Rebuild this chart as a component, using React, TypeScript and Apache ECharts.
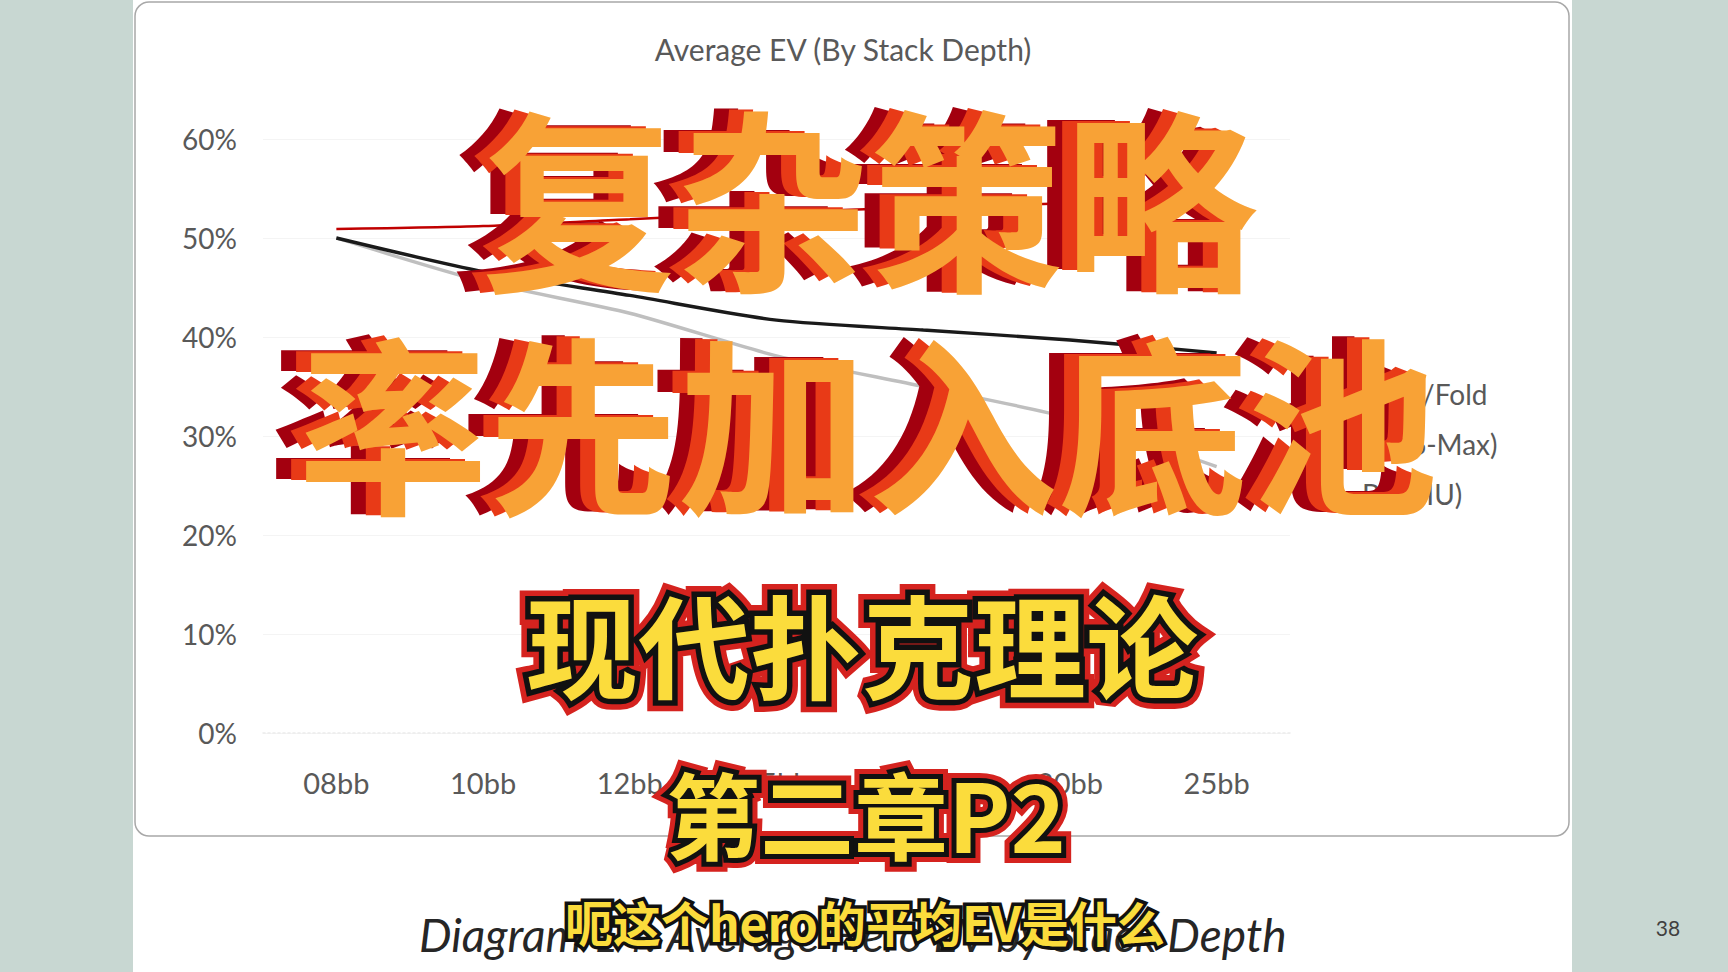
import { useEffect, useRef } from "react";
import * as echarts from "echarts";

// chart data
const categories = ["08bb", "10bb", "12bb", "15bb", "17bb", "20bb", "25bb"];
const pushFold = [50.9, 51.2, 51.9, 52.6, 53.1, 53.5, 53.9];
const sixMax = [50.0, 45.6, 42.4, 38.1, 35.0, 31.8, 26.9];
const headsUp = [50.0, 46.6, 44.2, 41.7, 40.7, 39.7, 38.4];
const seriesNames = ["Push/Fold", "SB (6-Max)", "BB (HU)"];
const seriesColors = ["#c00000", "#bfbfbf", "#1a1a1a"];

// slide + video overlay texts
const chartTitle = "Average EV (By Stack Depth)";
const caption = "Diagram 14: Average Hero EV by Stack Depth";
const pageNumber = "38";
const headline1 = "复杂策略";
const headline2 = "率先加入底池";
const bookTitle = "现代扑克理论";
const chapter = "第二章P2";
const subtitle = "呃这个hero的平均EV是什么";

const CJK = '"Noto Sans CJK SC", sans-serif';
const LATIN = "Lato, sans-serif";

// orange text with a stepped red / dark red extrusion to the left
function extruded(text: string, x: number, y: number, size: number) {
  const layers = [
    { dx: -30, dy: -3, fill: "#a3000f" },
    { dx: -15, dy: -1.5, fill: "#e83a17" },
    { dx: 0, dy: 0, fill: "#f8a236" },
  ];
  return layers.map((l, i) => ({
    type: "text",
    x: x + l.dx,
    y: y + l.dy,
    z: 50 + i,
    style: {
      text,
      fill: l.fill,
      font: `bold ${size}px ${CJK}`,
      align: "center",
      verticalAlign: "middle",
    },
  }));
}

// yellow text with black then red outline
function outlined(text: string, x: number, y: number, size: number, red: number, black: number) {
  const base = { font: `bold ${size}px ${CJK}`, align: "center", verticalAlign: "middle" };
  const out: any[] = [];
  if (red > 0)
    out.push({ type: "text", x, y, z: 60, style: { ...base, text, fill: "#d5231f", stroke: "#d5231f", lineWidth: red, lineJoin: "round" } });
  out.push({ type: "text", x, y, z: 61, style: { ...base, text, fill: "#111", stroke: "#111", lineWidth: black, lineJoin: "round" } });
  out.push({ type: "text", x, y, z: 62, style: { ...base, text, fill: "#fbdc3c" } });
  return out;
}

export default function App() {
  const ref = useRef<HTMLDivElement>(null);

  useEffect(() => {
    if (!ref.current) return;
    const chart = echarts.init(ref.current, null, { renderer: "svg" });
    const data = [pushFold, sixMax, headsUp];

    chart.setOption({
      animation: false,
      backgroundColor: "#c8d7d2",
      title: {
        text: chartTitle,
        left: 838,
        top: 29,
        textAlign: "center",
        textStyle: { fontFamily: LATIN, fontSize: 30, fontWeight: "normal", color: "#595959" },
      },
      grid: { left: 263, top: 139, width: 1027, height: 594 },
      legend: {
        orient: "vertical",
        left: 1330,
        top: 375,
        icon: "rect",
        itemWidth: 22,
        itemHeight: 3,
        itemGap: 22,
        data: seriesNames,
        textStyle: { fontFamily: LATIN, fontSize: 28, color: "#595959", lineHeight: 26 },
      },
      xAxis: {
        type: "category",
        data: categories,
        axisTick: { show: false },
        axisLine: { lineStyle: { color: "#ececec", width: 1.5, type: [2, 3] } },
        axisLabel: { fontFamily: LATIN, fontSize: 29, color: "#595959", margin: 35 },
      },
      yAxis: {
        type: "value",
        min: 0,
        max: 60,
        interval: 10,
        axisLabel: { formatter: "{value}%", fontFamily: LATIN, fontSize: 28, color: "#595959", margin: 26 },
        splitLine: { lineStyle: { color: "#f4f4f4" } },
      },
      series: seriesNames.map((name, i) => ({
        name,
        type: "line",
        data: data[i],
        symbol: "none",
        smooth: 0.25,
        z: 3 + i,
        lineStyle: { color: seriesColors[i], width: i === 0 ? 2.5 : 3.4 },
        itemStyle: { color: seriesColors[i] },
      })),
      graphic: [
        { type: "rect", z: -10, shape: { x: 133, y: 0, width: 1439, height: 972 }, style: { fill: "#ffffff" } },
        {
          type: "rect",
          z: -9,
          shape: { x: 135, y: 2, width: 1434, height: 834, r: 14 },
          style: { fill: "#ffffff", stroke: "#a8a8a8", lineWidth: 1.5 },
        },
        {
          type: "text",
          x: 419,
          y: 934,
          z: 1,
          style: { text: caption, fill: "#262626", font: `italic 46px ${LATIN}`, align: "left", verticalAlign: "middle" },
        },
        {
          type: "text",
          x: 1668,
          y: 927,
          z: 1,
          style: { text: pageNumber, fill: "#404040", font: `21px ${LATIN}`, align: "center", verticalAlign: "middle" },
        },
        ...extruded(headline1, 870, 192, 194),
        ...extruded(headline2, 868, 417, 190),
        ...outlined(bookTitle, 862, 642, 112, 22, 11),
        ...outlined(chapter, 866, 812, 94, 20, 10),
        ...outlined(subtitle, 865, 921, 48, 0, 7),
      ],
    });

    return () => chart.dispose();
  }, []);

  return <div ref={ref} style={{ position: "fixed", left: 0, top: 0, width: 1728, height: 972 }} />;
}
